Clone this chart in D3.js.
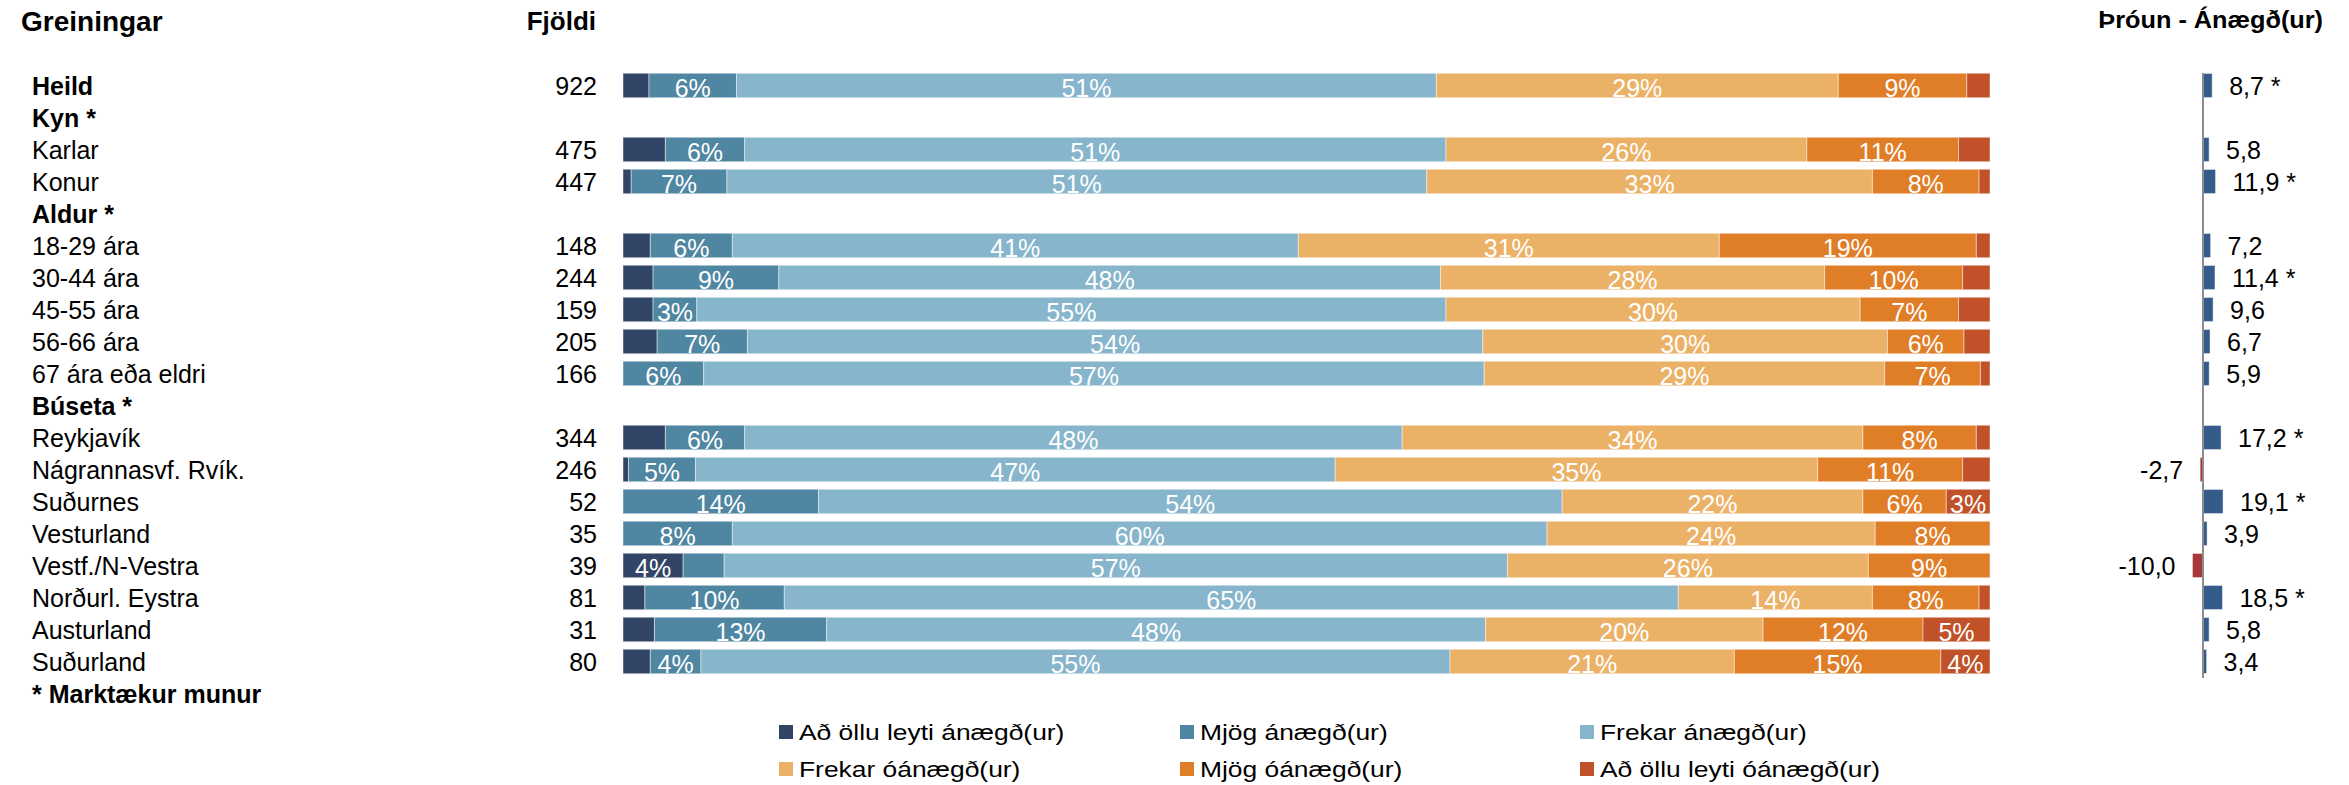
<!DOCTYPE html>
<html>
<head>
<meta charset="utf-8">
<script src="https://cdn.jsdelivr.net/npm/d3@7"></script>
<style>
  html, body { margin: 0; padding: 0; background: #ffffff; }
  svg { display: block; font-family: "Liberation Sans", Arial, sans-serif; }
</style>
</head>
<body>
<svg id="chart" width="2349" height="785"></svg>
<script>
// ---------- DATA ----------
const categories = ["Heild","Kyn *","Karlar","Konur","Aldur *","18-29 ára","30-44 ára","45-55 ára","56-66 ára","67 ára eða eldri","Búseta *","Reykjavík","Nágrannasvf. Rvík.","Suðurnes","Vesturland","Vestf./N-Vestra","Norðurl. Eystra","Austurland","Suðurland","* Marktækur munur"];
const boldRows = [true,true,false,false,true,false,false,false,false,false,true,false,false,false,false,false,false,false,false,true];
const counts = [922,null,475,447,null,148,244,159,205,166,null,344,246,52,35,39,81,31,80,null];

const seriesNames = ["Að öllu leyti ánægð(ur)","Mjög ánægð(ur)","Frekar ánægð(ur)","Frekar óánægð(ur)","Mjög óánægð(ur)","Að öllu leyti óánægð(ur)"];
const seriesColors = ["#334566","#4f86a1","#87b5cb","#ebb267","#e07e28","#c05128"];

const adOlluAnaegd  = [1.9,null,3.1,0.6,null,2.0,2.2,2.2,2.5,0,null,3.1,0.4,0,0,4.4,1.6,2.3,2.0,null];
const mjogAnaegd    = [6.4,null,5.8,7.0,null,6.0,9.2,3.2,6.6,5.9,null,5.8,4.9,14.3,8.0,3.0,10.2,12.6,3.7,null];
const frekarAnaegd  = [51.2,null,51.3,51.2,null,41.4,48.4,54.8,53.8,57.1,null,48.1,46.8,54.4,59.6,57.3,65.4,48.2,54.8,null];
const frekarOanaegd = [29.4,null,26.4,32.6,null,30.8,28.1,30.3,29.6,29.3,null,33.7,35.3,22.0,24.0,26.4,14.2,20.3,20.8,null];
const mjogOanaegd   = [9.4,null,11.1,7.8,null,18.8,10.1,7.2,5.6,7.0,null,8.3,10.6,6.1,8.4,8.9,7.8,11.7,15.1,null];
const adOlluOanaegd = [1.7,null,2.3,0.8,null,1.0,2.0,2.3,1.9,0.7,null,1.0,2.0,3.2,0,0,0.8,4.9,3.6,null];

const trend       = [8.7,null,5.8,11.9,null,7.2,11.4,9.6,6.7,5.9,null,17.2,-2.7,19.1,3.9,-10.0,18.5,5.8,3.4,null];
const significant = [true,null,false,true,null,false,true,false,false,false,null,true,false,true,false,false,true,false,false,null];

const titleLeft = "Greiningar";
const titleCount = "Fjöldi";
const titleTrend = "Þróun - Ánægð(ur)";

// ---------- SETUP ----------
const svg = d3.select("#chart");
svg.append("rect").attr("width", 2349).attr("height", 785).attr("fill", "#ffffff");

const y = d3.scalePoint().domain(d3.range(categories.length)).range([85.5, 85.5 + 32 * (categories.length - 1)]);
const barH = 24.5;
const x = d3.scaleLinear().domain([0, 100]).range([623, 1990]);
const xt = d3.scaleLinear().domain([-10, 20]).range([2203 - 10.5, 2203 + 21]);

const locale = d3.formatLocale({decimal: ",", thousands: ".", grouping: [3], currency: ["", ""], minus: "-"});
const fmt1 = locale.format(".1f");

// Headers
svg.append("text").attr("x", 21).attr("y", 31).attr("font-size", 28).attr("font-weight", "bold").attr("fill", "#000").text(titleLeft);
svg.append("text").attr("x", 596).attr("y", 30).attr("font-size", 26).attr("font-weight", "bold").attr("text-anchor", "end").attr("fill", "#000").text(titleCount);
svg.append("g").attr("transform", "translate(2323,28) scale(1.1,1)")
  .append("text").attr("font-size", 23).attr("font-weight", "bold").attr("text-anchor", "end").attr("fill", "#000").text(titleTrend);

// Row labels
svg.append("g").selectAll("text").data(categories).join("text")
  .attr("x", 32).attr("y", (d, i) => y(i) + 9)
  .attr("font-size", 25).attr("font-weight", (d, i) => boldRows[i] ? "bold" : "normal")
  .attr("fill", "#000").text(d => d);

// Counts
svg.append("g").selectAll("text").data(counts.map((c, i) => ({c, i})).filter(d => d.c != null)).join("text")
  .attr("x", 597).attr("y", d => y(d.i) + 9)
  .attr("font-size", 25).attr("text-anchor", "end").attr("fill", "#000").text(d => d.c);

// Stacked bars
const seriesArrays = [adOlluAnaegd, mjogAnaegd, frekarAnaegd, frekarOanaegd, mjogOanaegd, adOlluOanaegd];
const rows = [];
categories.forEach((c, i) => {
  if (seriesArrays[0][i] == null) return;
  const r = {i};
  seriesNames.forEach((s, k) => r[s] = seriesArrays[k][i]);
  rows.push(r);
});
const stacked = d3.stack().keys(seriesNames)(rows);

const gBars = svg.append("g");
stacked.forEach((layer, k) => {
  const g = gBars.append("g").attr("fill", seriesColors[k]);
  g.selectAll("rect").data(layer.filter(d => d[1] - d[0] > 0)).join("rect")
    .attr("x", d => x(d[0])).attr("width", d => x(d[1]) - x(d[0]))
    .attr("y", d => y(d.data.i) - barH / 2).attr("height", barH)
    .attr("stroke", "#ffffff").attr("stroke-opacity", 0.45).attr("stroke-width", 1);
});
stacked.forEach((layer, k) => {
  gBars.append("g").selectAll("text").data(layer.filter(d => d[1] - d[0] >= 3.15)).join("text")
    .attr("x", d => (x(d[0]) + x(d[1])) / 2).attr("y", d => y(d.data.i) + 11)
    .attr("text-anchor", "middle").attr("font-size", 25).attr("fill", "#ffffff")
    .text(d => Math.round(d[1] - d[0]) + "%");
});

// Trend mini chart
const trendRows = trend.map((v, i) => ({v, i, s: significant[i]})).filter(d => d.v != null);
const gT = svg.append("g");
gT.selectAll("rect").data(trendRows).join("rect")
  .attr("x", d => Math.min(xt(0), xt(d.v))).attr("width", d => Math.abs(xt(d.v) - xt(0)))
  .attr("y", d => y(d.i) - 12).attr("height", 24)
  .attr("fill", d => d.v < 0 ? "#a63a3a" : "#355b8b")
  .attr("stroke", "#ffffff").attr("stroke-opacity", 0.4).attr("stroke-width", 1);
gT.append("line").attr("x1", xt(0)).attr("x2", xt(0)).attr("y1", 73).attr("y2", 678)
  .attr("stroke", "#8c8c8c").attr("stroke-width", 2);
gT.selectAll("text").data(trendRows).join("text")
  .attr("x", d => d.v < 0 ? xt(d.v) - 17 : xt(d.v) + 17)
  .attr("y", d => y(d.i) + 9)
  .attr("text-anchor", d => d.v < 0 ? "end" : "start")
  .attr("font-size", 25).attr("fill", "#000")
  .text(d => fmt1(d.v) + (d.s ? " *" : ""));

// Legend
const legX = [779, 1180, 1580];
const legY = [732, 769];
const gL = svg.append("g");
seriesNames.forEach((s, k) => {
  const lx = legX[k % 3], ly = legY[Math.floor(k / 3)];
  gL.append("rect").attr("x", lx).attr("y", ly - 7).attr("width", 14).attr("height", 14).attr("fill", seriesColors[k]);
  gL.append("g").attr("transform", `translate(${lx + 20},${ly + 8}) scale(1.2,1)`)
    .append("text").attr("font-size", 22).attr("fill", "#000").text(s);
});
</script>
</body>
</html>
